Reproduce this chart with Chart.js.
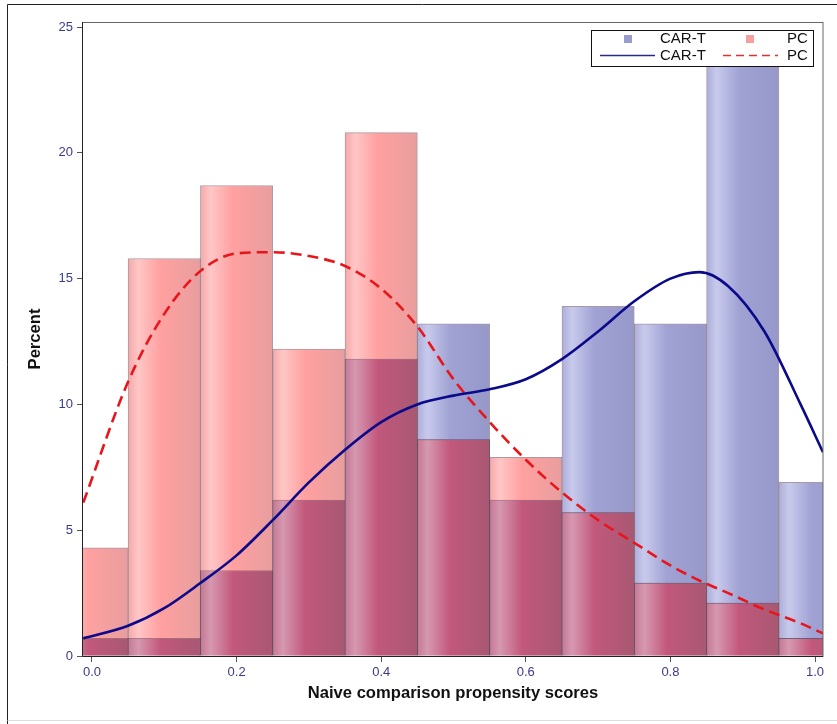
<!DOCTYPE html>
<html>
<head>
<meta charset="utf-8">
<script src="https://cdn.jsdelivr.net/npm/chart.js@4.4.0/dist/chart.umd.min.js"></script>
<style>
  html, body { margin: 0; padding: 0; background: #fff; }
  #wrap { position: relative; width: 837px; height: 724px; }
</style>
</head>
<body>
<div id="wrap"><canvas id="c" width="837" height="724"></canvas></div>
<script>
// 直方图分箱（中心点）
const binCenters = [0.0, 0.1, 0.2, 0.3, 0.4, 0.5, 0.6, 0.7, 0.8, 0.9, 1.0];
const carTPct = [0.7, 0.7, 3.4, 6.2, 11.8, 13.2, 6.2, 13.9, 13.2, 23.6, 6.9];
const pcPct   = [4.3, 15.8, 18.7, 12.2, 20.8, 8.6, 7.9, 5.7, 2.9, 2.1, 0.7];

// 核密度曲线
const kdeX = [-0.012, 0.05, 0.1, 0.15, 0.2, 0.25, 0.3, 0.35, 0.4, 0.45, 0.5, 0.55, 0.6, 0.65, 0.7, 0.75, 0.8, 0.84, 0.88, 0.93, 0.98, 1.011];
const carTKde = [0.7, 1.2, 1.9, 2.9, 4.0, 5.4, 6.9, 8.2, 9.3, 10.0, 10.35, 10.6, 11.0, 11.8, 12.9, 14.1, 15.0, 15.26, 14.7, 12.9, 10.0, 8.1];
const pcKde   = [6.1, 10.9, 13.6, 15.3, 16.0, 16.05, 15.9, 15.5, 14.6, 13.1, 11.0, 9.3, 7.8, 6.5, 5.4, 4.5, 3.6, 3.0, 2.5, 1.85, 1.3, 0.9];

const yTicks = [0, 5, 10, 15, 20, 25];
const xTicks = [0, 0.2, 0.4, 0.6, 0.8, 1.0];

const FONT = "'Liberation Sans', Arial, sans-serif";

// 重叠部分 = 两组的较小值
const overlapPct = carTPct.map((v, i) => Math.min(v, pcPct[i]));

function barGradient(stops) {
    return function(ctx) {
        const chart = ctx.chart;
        const xs = chart.scales.x;
        if (ctx.type !== 'data' || !xs || !chart.chartArea) return stops[2][1];
        const cx = xs.getPixelForValue(binCenters[ctx.dataIndex]);
        const half = Math.abs(xs.getPixelForValue(0.05) - xs.getPixelForValue(0));
        if (!isFinite(cx) || !isFinite(half) || half === 0) return stops[2][1];
        const g = chart.ctx.createLinearGradient(cx - half, 0, cx + half, 0);
        stops.forEach(s => g.addColorStop(s[0], s[1]));
        return g;
    };
}

const blueStops = [[0, 'rgb(172,174,218)'], [0.14, 'rgb(200,202,236)'], [0.45, 'rgb(160,162,212)'], [1, 'rgb(150,152,202)']];
const redStops = [[0, 'rgb(246,168,168)'], [0.14, 'rgb(255,198,198)'], [0.45, 'rgb(255,160,160)'], [1, 'rgb(232,158,158)']];
const mixStops = [[0, 'rgb(196,120,148)'], [0.14, 'rgb(214,152,176)'], [0.45, 'rgb(194,88,124)'], [1, 'rgb(168,88,114)']];

const toXY = (xs, ys) => xs.map((x, i) => ({ x: x, y: ys[i] }));

// 图框和图例
const framePlugin = {
    id: 'frame',
    beforeDraw(chart) {
        const c = chart.ctx;
        c.save();
        c.strokeStyle = '#222';
        c.lineWidth = 1;
        c.beginPath();
        c.moveTo(7.5, 724);
        c.lineTo(7.5, 4.5);
        c.lineTo(837, 4.5);
        c.stroke();
        c.strokeStyle = '#ddd';
        c.beginPath();
        c.moveTo(7.5, 720.5);
        c.lineTo(837, 720.5);
        c.stroke();
        c.restore();
    },
    afterDatasetsDraw(chart) {
        const a = chart.chartArea;
        const c = chart.ctx;
        c.save();
        c.strokeStyle = '#666';
        c.lineWidth = 1;
        c.strokeRect(a.left - 0.5, a.top + 0.5, a.right - a.left + 0.5, a.bottom - a.top);
        c.strokeStyle = '#222';
        c.beginPath();
        c.moveTo(a.left - 0.5, a.top);
        c.lineTo(a.left - 0.5, a.bottom + 0.5);
        c.lineTo(a.right, a.bottom + 0.5);
        c.stroke();

        // 图例
        const lx = 591, ly = 30, lw = 222, lh = 36;
        c.fillStyle = '#fff';
        c.fillRect(lx, ly, lw, lh);
        c.strokeStyle = '#111';
        c.strokeRect(lx + 0.5, ly + 0.5, lw, lh);
        c.font = '15px ' + FONT;
        c.textBaseline = 'middle';
        c.textAlign = 'left';
        c.fillStyle = '#9a9cd0';
        c.fillRect(624, 35, 8, 8);
        c.fillStyle = '#f4a0a0';
        c.fillRect(746, 35, 8, 8);
        c.fillStyle = '#111';
        c.fillText('CAR-T', 660, 39);
        c.fillText('PC', 787, 39);
        c.fillText('CAR-T', 660, 56);
        c.fillText('PC', 787, 56);
        c.lineWidth = 1.5;
        c.strokeStyle = '#2a2a8c';
        c.beginPath();
        c.moveTo(600, 55.5);
        c.lineTo(655, 55.5);
        c.stroke();
        c.strokeStyle = '#e03030';
        c.setLineDash([8, 5]);
        c.beginPath();
        c.moveTo(723, 55.5);
        c.lineTo(778, 55.5);
        c.stroke();
        c.restore();
    }
};

const barBorder = 'rgba(100,70,90,0.55)';

new Chart(document.getElementById('c'), {
    type: 'bar',
    data: {
        datasets: [
            {
                type: 'line',
                label: 'CAR-T',
                data: toXY(kdeX, carTKde),
                borderColor: '#0a0a8a',
                borderWidth: 2.6,
                pointRadius: 0,
                cubicInterpolationMode: 'monotone',
                fill: false,
                order: 0
            },
            {
                type: 'line',
                label: 'PC',
                data: toXY(kdeX, pcKde),
                borderColor: '#e8161b',
                borderWidth: 2.6,
                borderDash: [11, 6],
                pointRadius: 0,
                cubicInterpolationMode: 'monotone',
                fill: false,
                order: 0
            },
            {
                label: 'overlap',
                data: toXY(binCenters, overlapPct),
                backgroundColor: barGradient(mixStops),
                borderColor: barBorder,
                borderWidth: 1,
                order: 1
            },
            {
                label: 'PC',
                data: toXY(binCenters, pcPct),
                backgroundColor: barGradient(redStops),
                borderColor: barBorder,
                borderWidth: 1,
                order: 2
            },
            {
                label: 'CAR-T',
                data: toXY(binCenters, carTPct),
                backgroundColor: barGradient(blueStops),
                borderColor: barBorder,
                borderWidth: 1,
                order: 3
            }
        ]
    },
    options: {
        responsive: false,
        animation: false,
        layout: { padding: { left: 0, top: 22, right: 14, bottom: 0 } },
        datasets: {
            bar: { grouped: false, barPercentage: 1, categoryPercentage: 1 }
        },
        plugins: {
            legend: { display: false },
            tooltip: { enabled: false }
        },
        scales: {
            x: {
                type: 'linear',
                offset: false,
                min: -0.0124,
                max: 1.011,
                afterBuildTicks: s => { s.ticks = xTicks.map(v => ({ value: v })); },
                afterFit: s => { s.height = 68; },
                ticks: {
                    color: '#3a3a8c',
                    font: { family: FONT, size: 13 },
                    padding: 3,
                    maxRotation: 0,
                    callback: v => v.toFixed(1)
                },
                grid: { offset: false, drawOnChartArea: false, drawTicks: true, tickLength: 6, color: '#555' },
                border: { display: false },
                title: {
                    display: true,
                    text: 'Naive comparison propensity scores',
                    color: '#111',
                    font: { family: FONT, size: 16.6, weight: 'bold' },
                    padding: { top: 0, bottom: 21 }
                }
            },
            y: {
                min: 0,
                max: 25.2,
                afterBuildTicks: s => { s.ticks = yTicks.map(v => ({ value: v })); },
                afterFit: s => { s.width = 83; },
                ticks: {
                    color: '#3a3a8c',
                    font: { family: FONT, size: 13 },
                    padding: 4
                },
                grid: { drawOnChartArea: false, drawTicks: true, tickLength: 6, color: '#555' },
                border: { display: false },
                title: {
                    display: true,
                    text: 'Percent',
                    color: '#111',
                    font: { family: FONT, size: 16.6, weight: 'bold' },
                    padding: { top: 25, bottom: 0 }
                }
            }
        }
    },
    plugins: [framePlugin]
});
</script>
</body>
</html>
